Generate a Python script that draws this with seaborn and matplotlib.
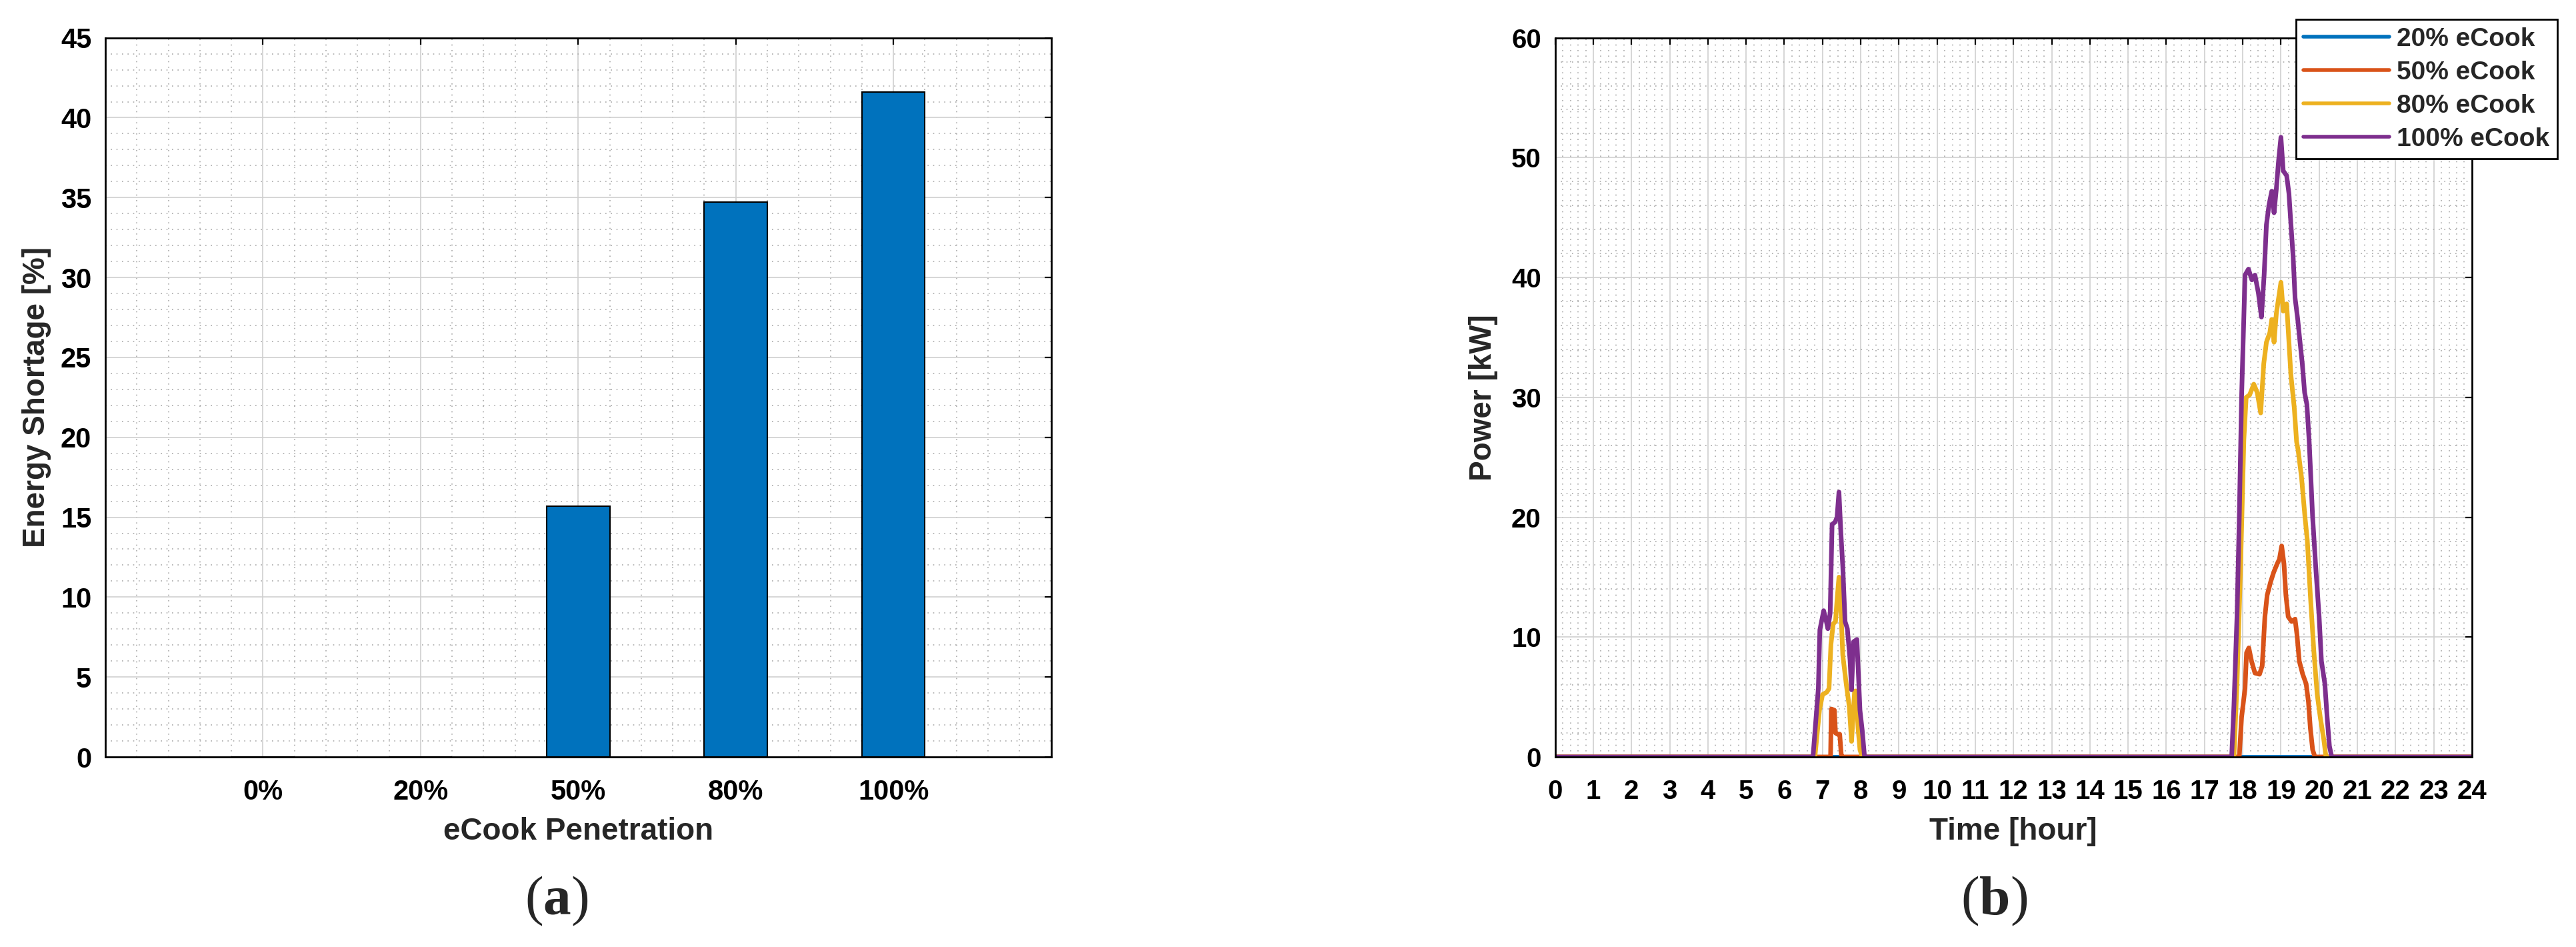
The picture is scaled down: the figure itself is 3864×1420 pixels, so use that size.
#!/usr/bin/env python3
"""
eCook penetration: energy shortage (a) and shortage power over a day (b).
"""

import matplotlib
matplotlib.use("Agg")
import matplotlib.pyplot as plt
import pandas as pd
import seaborn as sns
from matplotlib.ticker import MultipleLocator

# ---- data (a): energy shortage per penetration level ----
penetration = ["0%", "20%", "50%", "80%", "100%"]
shortage_pct = [0.0, 0.0, 15.7, 34.7, 41.6]

# ---- data (b): shortage power vs. time of day ----
series_labels = ["20% eCook", "50% eCook", "80% eCook", "100% eCook"]

hours_20 = [0, 24]
kw_20 = [0, 0]

hours_50 = [0, 7.21, 7.23, 7.31, 7.34, 7.39, 7.45, 7.49, 7.52,
            17.91, 17.97, 18.06, 18.10, 18.16, 18.23, 18.32, 18.44, 18.51, 18.58,
            18.64, 18.73, 18.81, 18.90, 18.96, 19.02, 19.08, 19.13, 19.19, 19.28,
            19.37, 19.42, 19.48, 19.57, 19.66, 19.72, 19.77, 19.83, 19.89, 24]
kw_50 = [0, 0, 4.0, 3.9, 2.0, 1.9, 1.9, 0.2, 0,
         0, 3.3, 5.7, 8.7, 9.1, 8.0, 7.0, 6.9, 7.6, 11.7,
         13.5, 14.6, 15.4, 16.1, 16.5, 17.6, 16.1, 13.5, 11.7, 11.3,
         11.5, 10.2, 8.0, 6.9, 6.1, 4.6, 2.4, 0.6, 0, 0]

hours_80 = [0, 6.80, 6.92, 7.00, 7.11, 7.17, 7.22, 7.28, 7.34, 7.38, 7.43, 7.48,
            7.53, 7.62, 7.70, 7.76, 7.84, 7.88, 7.93, 7.98, 8.04,
            17.77, 17.85, 17.94, 18.03, 18.09, 18.18, 18.29, 18.38, 18.47, 18.55,
            18.62, 18.71, 18.76, 18.82, 18.88, 18.94, 19.00, 19.06, 19.15, 19.21,
            19.26, 19.35, 19.41, 19.45, 19.54, 19.63, 19.69, 19.77, 19.86, 19.95,
            20.03, 20.12, 20.18, 24]
kw_80 = [0, 0, 3.9, 5.2, 5.4, 5.7, 9.4, 11.1, 11.3, 13.1, 15.0, 12.4,
         8.5, 6.1, 4.2, 1.3, 5.5, 5.5, 2.4, 0.6, 0,
         0, 6.1, 15.4, 26.5, 30.0, 30.2, 31.1, 30.4, 28.7, 32.8,
         34.6, 35.4, 36.5, 34.6, 37.0, 38.3, 39.6, 37.2, 37.8, 34.6,
         31.9, 29.1, 26.3, 25.6, 23.3, 20.0, 18.1, 13.5, 8.9, 5.2,
         3.3, 1.5, 0, 0]

hours_100 = [0, 6.75, 6.89, 6.93, 7.03, 7.10, 7.14, 7.20, 7.25, 7.33, 7.38, 7.43,
             7.48, 7.53, 7.59, 7.65, 7.72, 7.76, 7.81, 7.90, 7.93, 7.98, 8.04, 8.10,
             17.71, 17.77, 17.85, 17.91, 17.97, 18.06, 18.15, 18.24, 18.32, 18.41,
             18.49, 18.56, 18.62, 18.69, 18.76, 18.82, 18.88, 18.94, 19.00, 19.06,
             19.15, 19.21, 19.25, 19.32, 19.37, 19.44, 19.50, 19.56, 19.62, 19.68,
             19.74, 19.83, 19.92, 20.00, 20.06, 20.15, 20.21, 20.27, 20.33, 24]
kw_100 = [0, 0, 5.7, 10.6, 12.2, 11.3, 10.7, 12.0, 19.4, 19.6, 20.0, 22.1,
          18.7, 15.9, 11.3, 10.7, 8.1, 5.6, 9.6, 9.8, 7.6, 3.9, 2.2, 0,
          0, 4.3, 11.7, 20.0, 30.0, 40.2, 40.7, 39.8, 40.2, 38.7,
          36.7, 40.2, 44.4, 46.1, 47.2, 45.4, 47.4, 49.8, 51.7, 48.9,
          48.5, 47.0, 45.0, 41.7, 38.3, 36.5, 34.6, 32.8, 30.4, 29.4,
          26.3, 20.0, 15.4, 11.7, 8.0, 6.1, 3.3, 0.9, 0, 0]

# MATLAB default colour order
bar_color = "#0072BD"
line_colors = ["#0072BD", "#D95319", "#EDB120", "#7E2F8E"]

LABEL_FS = 33
LEGEND_FS = 28

sns.set_style("white")
plt.rcParams["font.family"] = ["Liberation Sans", "DejaVu Sans"]
plt.rcParams["font.weight"] = "bold"
plt.rcParams["axes.labelweight"] = "bold"
plt.rcParams["mathtext.fontset"] = "custom"
plt.rcParams["mathtext.rm"] = "Liberation Serif"
plt.rcParams["mathtext.bf"] = "Liberation Serif:bold"


def style_axes(ax, tick_fs):
    """MATLAB-like box, inward ticks, major + dotted minor grid."""
    for sp in ax.spines.values():
        sp.set_visible(True)
        sp.set_color("black")
        sp.set_linewidth(2.0)
    ax.tick_params(which="major", direction="in", length=7, width=1.6,
                   top=True, right=True, labelsize=tick_fs, colors="black")
    ax.tick_params(axis="x", which="major", pad=23.5)
    ax.tick_params(axis="y", which="major", pad=15)
    ax.tick_params(which="minor", length=0)
    ax.grid(True, which="major", color="#cfcfcf", linestyle="-", linewidth=1.2)
    ax.grid(True, which="minor", color="#aaaaaa", linestyle=(0, (1, 4)), linewidth=1.2)
    ax.set_axisbelow(True)
    for lbl in ax.get_xticklabels() + ax.get_yticklabels():
        lbl.set_fontweight("bold")


fig = plt.figure(figsize=(38.64, 14.2), dpi=100)
ax1 = fig.add_axes([0.0409, 0.2007, 0.3671, 0.7594])
ax2 = fig.add_axes([0.6037, 0.2007, 0.3559, 0.7594])

# ---- (a) bars ----
df_bar = pd.DataFrame({"penetration": penetration, "shortage": shortage_pct})
sns.barplot(data=df_bar, x="penetration", y="shortage", order=penetration,
            color=bar_color, saturation=1, width=0.4, edgecolor="black",
            linewidth=1.5, ax=ax1)
ax1.set_xlim(-1, 5)
ax1.set_ylim(0, 45)
ax1.yaxis.set_major_locator(MultipleLocator(5))
ax1.yaxis.set_minor_locator(MultipleLocator(1))
ax1.xaxis.set_minor_locator(MultipleLocator(0.2))
ax1.set_xlabel("eCook Penetration", fontsize=LABEL_FS, fontweight="bold")
ax1.set_ylabel("Energy Shortage [%]", fontsize=LABEL_FS, fontweight="bold")
style_axes(ax1, 30)
ax1.xaxis.set_label_coords(0.5, -0.083)
ax1.yaxis.set_label_coords(-0.057, 0.5)

# ---- (b) lines ----
frames = []
for lab, hrs, kw in zip(series_labels, [hours_20, hours_50, hours_80, hours_100],
                        [kw_20, kw_50, kw_80, kw_100]):
    frames.append(pd.DataFrame({"hour": hrs, "kw": kw, "series": lab}))
df_line = pd.concat(frames, ignore_index=True)

sns.lineplot(data=df_line, x="hour", y="kw", hue="series", hue_order=series_labels,
             palette=dict(zip(series_labels, line_colors)), estimator=None,
             linewidth=5, ax=ax2, legend=False)
ax2.set_xlim(0, 24)
ax2.set_ylim(0, 60)
ax2.xaxis.set_major_locator(MultipleLocator(1))
ax2.xaxis.set_minor_locator(MultipleLocator(0.2))
ax2.yaxis.set_major_locator(MultipleLocator(10))
ax2.yaxis.set_minor_locator(MultipleLocator(2))
ax2.set_xlabel("Time [hour]", fontsize=LABEL_FS, fontweight="bold")
ax2.set_ylabel("Power [kW]", fontsize=LABEL_FS, fontweight="bold")
style_axes(ax2, 29)
ax2.xaxis.set_label_coords(0.5, -0.083)
ax2.yaxis.set_label_coords(-0.062, 0.5)

handles = ax2.get_lines()[:4]
leg = ax2.legend(handles, series_labels, loc="upper right",
                 bbox_to_anchor=(0.9928, 0.9796), bbox_transform=fig.transFigure,
                 prop={"weight": "bold", "size": LEGEND_FS}, frameon=True,
                 fancybox=False, framealpha=1, edgecolor="black",
                 handlelength=3.3, labelspacing=0.36, borderpad=0.3,
                 handletextpad=0.3, borderaxespad=0)
leg.get_frame().set_linewidth(2.0)
for h in leg.legend_handles:
    h.set_linewidth(4)

# ---- captions ----
fig.text(0.2161, 0.048, r"($\mathbf{a}$)", ha="center", va="center",
         fontsize=60, fontfamily="Liberation Serif", fontweight="normal")
fig.text(0.7741, 0.048, r"($\mathbf{b}$)", ha="center", va="center",
         fontsize=60, fontfamily="Liberation Serif", fontweight="normal")

fig.savefig("out.png", dpi=100, facecolor="white")
